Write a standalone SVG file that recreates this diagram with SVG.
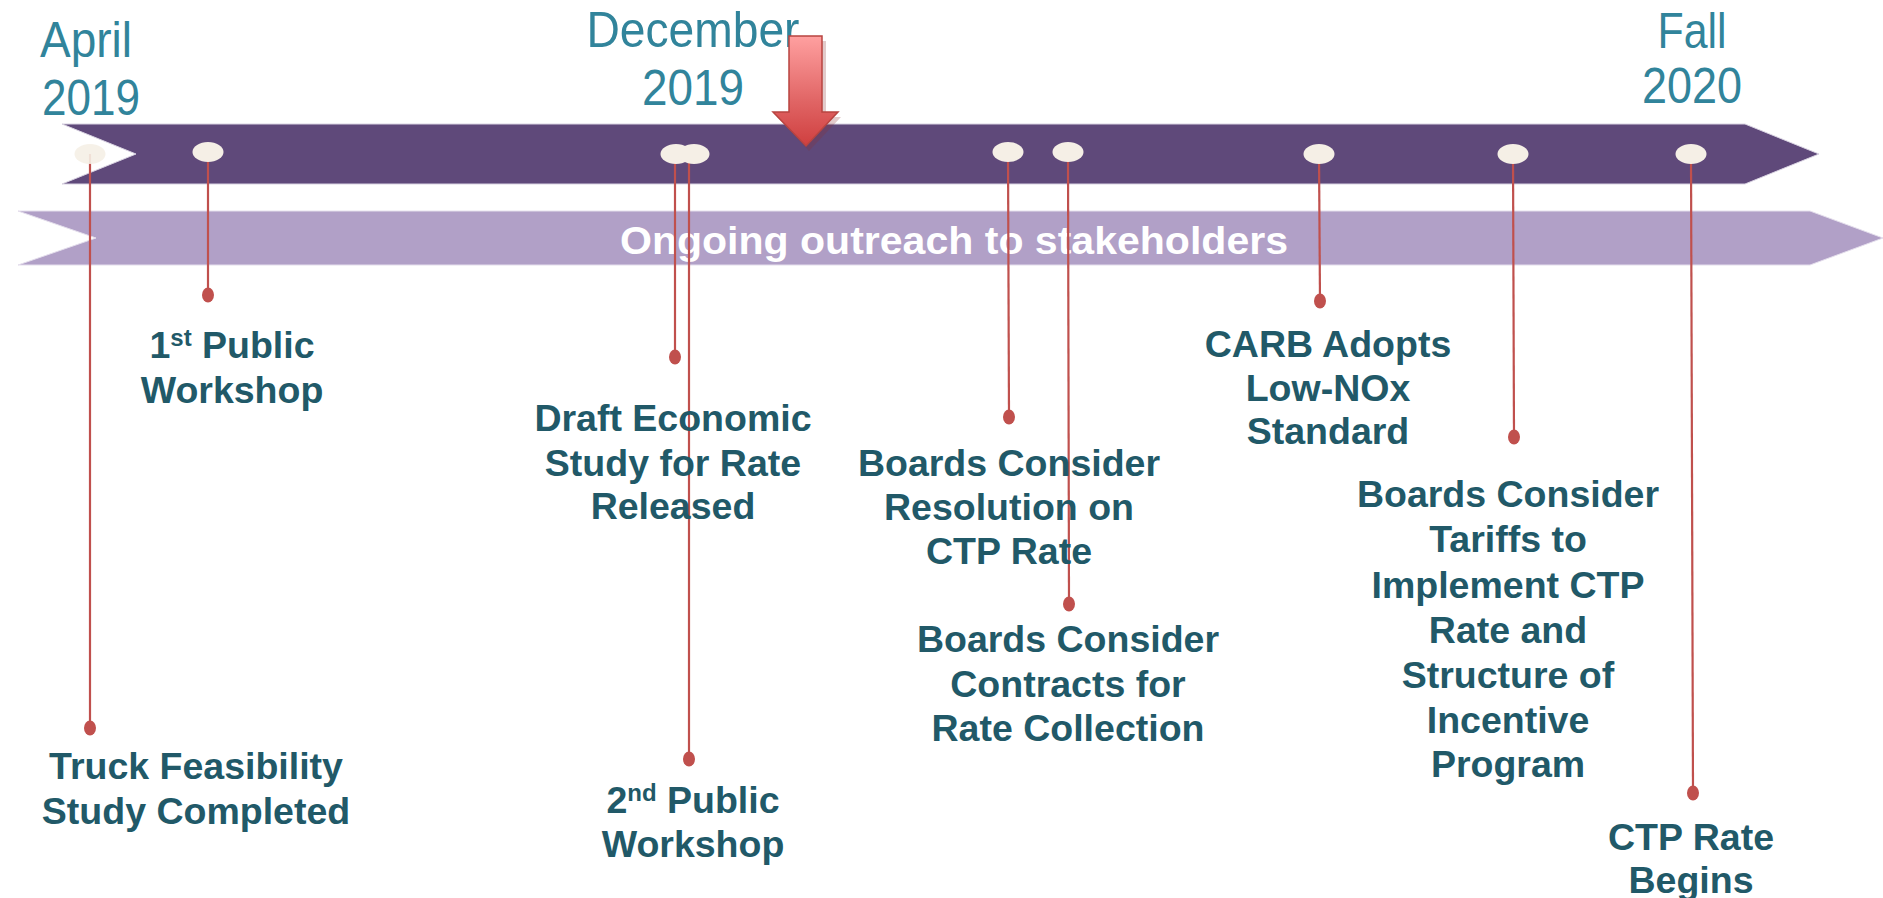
<svg xmlns="http://www.w3.org/2000/svg" width="1883" height="898" viewBox="0 0 1883 898">
<style>
.date{font-family:"Liberation Sans",Arial,sans-serif;font-size:50px;fill:#31849B;text-anchor:middle}
.lbl{font-family:"Liberation Sans",Arial,sans-serif;font-weight:bold;font-size:37.5px;fill:#215968;text-anchor:middle}
.sup{font-size:24px}
.conn{stroke:#C0504D;stroke-width:2.2;fill:none}
.dot{fill:#C0504D}
.ms{fill:#F5EFE6}
</style>
<defs>
<linearGradient id="ag" x1="0" y1="0" x2="0" y2="1">
<stop offset="0" stop-color="#FFA0A0"/>
<stop offset="0.6" stop-color="#E06464"/>
<stop offset="1" stop-color="#CF3F3F"/>
</linearGradient>
</defs>
<rect width="1883" height="898" fill="#FFFFFF"/>
<g id="bands">
<polygon points="62,124 1745,124 1819,154 1745,184 62,184 136,154" fill="#5F497A" stroke="#D9D3E2" stroke-width="1"/>
<polygon points="18,211 1810,211 1883,238 1810,265 18,265 96,238" fill="#B1A0C7" stroke="#E4DEEC" stroke-width="1"/>
<text x="954" y="254" font-family="'Liberation Sans',Arial,sans-serif" font-weight="bold" font-size="38" fill="#FFFFFF" text-anchor="middle" textLength="668" lengthAdjust="spacingAndGlyphs">Ongoing outreach to stakeholders</text>
</g>
<g id="dates">
<text class="date" x="86" y="57" textLength="92" lengthAdjust="spacingAndGlyphs">April</text>
<text class="date" x="91" y="115" textLength="98" lengthAdjust="spacingAndGlyphs">2019</text>
<text class="date" x="693" y="47" textLength="213" lengthAdjust="spacingAndGlyphs">December</text>
<text class="date" x="693" y="105" textLength="102" lengthAdjust="spacingAndGlyphs">2019</text>
<text class="date" x="1692" y="48" textLength="69" lengthAdjust="spacingAndGlyphs">Fall</text>
<text class="date" x="1692" y="103" textLength="100" lengthAdjust="spacingAndGlyphs">2020</text>
</g>
<g id="now-arrow">
<polygon points="791,38 824,38 824,114 839,114 807,148 775,114 791,114" fill="#8B2E2E" opacity="0.25" transform="translate(2,3)"/>
<polygon points="789,36 822,36 822,112 838,112 806,146 773,112 789,112" fill="url(#ag)" stroke="#B84440" stroke-width="1.5"/>
</g>
<g id="connectors">
<line class="conn" x1="90" y1="154" x2="90" y2="728"/>
<line class="conn" x1="208" y1="152" x2="208" y2="295"/>
<line class="conn" x1="675" y1="154" x2="675" y2="357"/>
<line class="conn" x1="689" y1="154" x2="689" y2="759"/>
<line class="conn" x1="1008" y1="152" x2="1009" y2="417"/>
<line class="conn" x1="1068" y1="152" x2="1069" y2="604"/>
<line class="conn" x1="1319" y1="154" x2="1320" y2="301"/>
<line class="conn" x1="1513" y1="154" x2="1514" y2="437"/>
<line class="conn" x1="1691" y1="154" x2="1693" y2="793"/>
<ellipse class="dot" cx="90" cy="728" rx="6" ry="7.5"/>
<ellipse class="dot" cx="208" cy="295" rx="6" ry="7.5"/>
<ellipse class="dot" cx="675" cy="357" rx="6" ry="7.5"/>
<ellipse class="dot" cx="689" cy="759" rx="6" ry="7.5"/>
<ellipse class="dot" cx="1009" cy="417" rx="6" ry="7.5"/>
<ellipse class="dot" cx="1069" cy="604" rx="6" ry="7.5"/>
<ellipse class="dot" cx="1320" cy="301" rx="6" ry="7.5"/>
<ellipse class="dot" cx="1514" cy="437" rx="6" ry="7.5"/>
<ellipse class="dot" cx="1693" cy="793" rx="6" ry="7.5"/>
</g>
<g id="milestones">
<ellipse class="ms" cx="90" cy="154" rx="15.5" ry="10" opacity="0.9"/>
<ellipse class="ms" cx="208" cy="152" rx="15.5" ry="10"/>
<ellipse class="ms" cx="676" cy="154" rx="15.5" ry="10"/>
<ellipse class="ms" cx="694" cy="154" rx="15.5" ry="10"/>
<ellipse class="ms" cx="1008" cy="152" rx="15.5" ry="10"/>
<ellipse class="ms" cx="1068" cy="152" rx="15.5" ry="10"/>
<ellipse class="ms" cx="1319" cy="154" rx="15.5" ry="10"/>
<ellipse class="ms" cx="1513" cy="154" rx="15.5" ry="10"/>
<ellipse class="ms" cx="1691" cy="154" rx="15.5" ry="10"/>
</g>
<g id="n-workshop1">
<text class="lbl" x="232" y="358">1<tspan class="sup" dy="-12">st</tspan><tspan dy="12"> Public</tspan></text>
<text class="lbl" x="232" y="403">Workshop</text>
</g>
<g id="n-truck">
<text class="lbl" x="196" y="779">Truck Feasibility</text>
<text class="lbl" x="196" y="824">Study Completed</text>
</g>
<g id="n-draft">
<text class="lbl" x="673" y="431">Draft Economic</text>
<text class="lbl" x="673" y="476">Study for Rate</text>
<text class="lbl" x="673" y="519">Released</text>
</g>
<g id="n-workshop2">
<text class="lbl" x="693" y="813">2<tspan class="sup" dy="-12">nd</tspan><tspan dy="12"> Public</tspan></text>
<text class="lbl" x="693" y="857">Workshop</text>
</g>
<g id="n-resolution">
<text class="lbl" x="1009" y="476">Boards Consider</text>
<text class="lbl" x="1009" y="520">Resolution on</text>
<text class="lbl" x="1009" y="564">CTP Rate</text>
</g>
<g id="n-contracts">
<text class="lbl" x="1068" y="652">Boards Consider</text>
<text class="lbl" x="1068" y="697">Contracts for</text>
<text class="lbl" x="1068" y="741">Rate Collection</text>
</g>
<g id="n-carb">
<text class="lbl" x="1328" y="357">CARB Adopts</text>
<text class="lbl" x="1328" y="401">Low-NOx</text>
<text class="lbl" x="1328" y="444">Standard</text>
</g>
<g id="n-tariffs">
<text class="lbl" x="1508" y="507">Boards Consider</text>
<text class="lbl" x="1508" y="552">Tariffs to</text>
<text class="lbl" x="1508" y="598">Implement CTP</text>
<text class="lbl" x="1508" y="643">Rate and</text>
<text class="lbl" x="1508" y="688">Structure of</text>
<text class="lbl" x="1508" y="733">Incentive</text>
<text class="lbl" x="1508" y="777">Program</text>
</g>
<g id="n-begins">
<text class="lbl" x="1691" y="850">CTP Rate</text>
<text class="lbl" x="1691" y="893">Begins</text>
</g>
</svg>
